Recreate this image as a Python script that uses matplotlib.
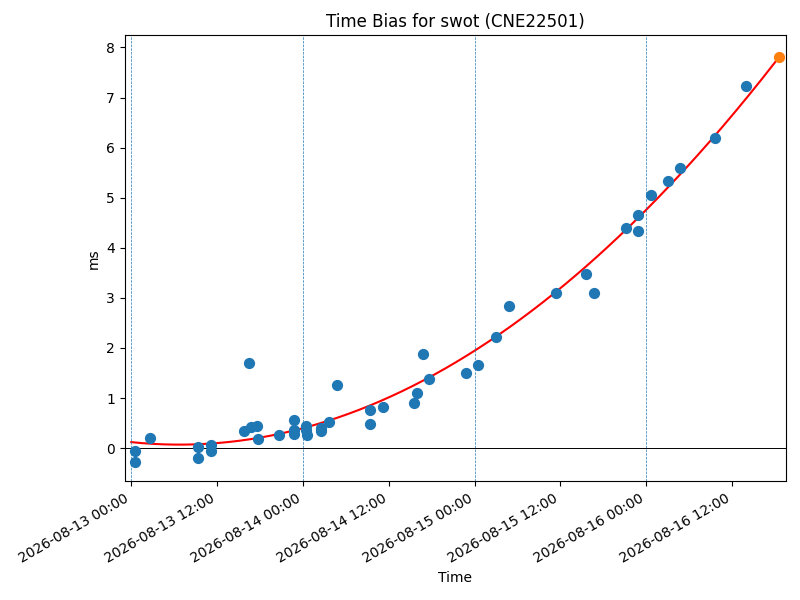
import matplotlib
matplotlib.use("Agg")
import matplotlib.pyplot as plt
import matplotlib.dates as mdates
import numpy as np
import pandas as pd

station = "swot"
receiver = "CNE22501"

# measured time bias samples (ms)
times = [
    "2026-08-13 00:28", "2026-08-13 00:28", "2026-08-13 02:40",
    "2026-08-13 09:24", "2026-08-13 09:24", "2026-08-13 11:06", "2026-08-13 11:06",
    "2026-08-13 15:48", "2026-08-13 16:24", "2026-08-13 16:45", "2026-08-13 17:36",
    "2026-08-13 17:42", "2026-08-13 20:36",
    "2026-08-13 22:48", "2026-08-13 22:48", "2026-08-13 22:48",
    "2026-08-14 00:27", "2026-08-14 00:27", "2026-08-14 00:36",
    "2026-08-14 02:36", "2026-08-14 02:36", "2026-08-14 03:36", "2026-08-14 04:42",
    "2026-08-14 09:21", "2026-08-14 09:21", "2026-08-14 11:12",
    "2026-08-14 15:30", "2026-08-14 15:54", "2026-08-14 16:48", "2026-08-14 17:42",
    "2026-08-14 22:48", "2026-08-15 00:30", "2026-08-15 03:00", "2026-08-15 04:48",
    "2026-08-15 11:24", "2026-08-15 15:36", "2026-08-15 16:42",
    "2026-08-15 21:12", "2026-08-15 22:54", "2026-08-15 22:54",
    "2026-08-16 00:42", "2026-08-16 03:06", "2026-08-16 04:48",
    "2026-08-16 09:36", "2026-08-16 14:00",
]
bias_ms = [
    -0.06, -0.27, 0.20,
    0.02, -0.20, 0.07, -0.06,
    0.34, 1.69, 0.43, 0.45,
    0.18, 0.27,
    0.56, 0.37, 0.28,
    0.44, 0.36, 0.27,
    0.35, 0.40, 0.52, 1.27,
    0.76, 0.49, 0.82,
    0.91, 1.11, 1.87, 1.39,
    1.51, 1.65, 2.21, 2.83,
    3.10, 3.48, 3.10,
    4.40, 4.66, 4.34,
    5.06, 5.33, 5.60,
    6.20, 7.23,
]

# quadratic model (ms vs hours since fit start)
fit_start = "2026-08-13 00:00"
fit_end = "2026-08-16 18:36"
fit_coef = [0.0011, -0.0148, 0.12]

t = pd.to_datetime(times)
t0 = pd.Timestamp(fit_start)
t1 = pd.Timestamp(fit_end)
curve_t = pd.date_range(t0, t1, periods=300)
curve_h = (curve_t - t0) / pd.Timedelta(hours=1)
curve_v = np.polyval(fit_coef, curve_h)
end_h = (t1 - t0) / pd.Timedelta(hours=1)
end_v = np.polyval(fit_coef, end_h)

fig, ax = plt.subplots(figsize=(8, 6), dpi=100)
ax.scatter(t, bias_ms, s=50, zorder=3)
ax.plot(curve_t, curve_v, color="red", zorder=2)
ax.scatter([t1], [end_v], s=50, color="tab:orange", zorder=4)

for day in pd.date_range("2026-08-13", "2026-08-16", freq="D"):
    ax.axvline(day, linestyle="--", linewidth=0.5, color="tab:blue")
ax.axhline(0, color="black", linewidth=0.7)

ax.margins(x=0.01)
ax.set_ylim(-0.66, 8.24)
ax.xaxis.set_major_locator(mdates.HourLocator(byhour=[0, 12]))
ax.xaxis.set_major_formatter(mdates.DateFormatter("%Y-%m-%d %H:%M"))
ax.set_title(f"Time Bias for {station} ({receiver})")
ax.set_xlabel("Time")
ax.set_ylabel("ms")
fig.autofmt_xdate()
fig.subplots_adjust(left=0.156, right=0.982, top=0.941, bottom=0.198)
plt.savefig("out.png")
plt.close()
